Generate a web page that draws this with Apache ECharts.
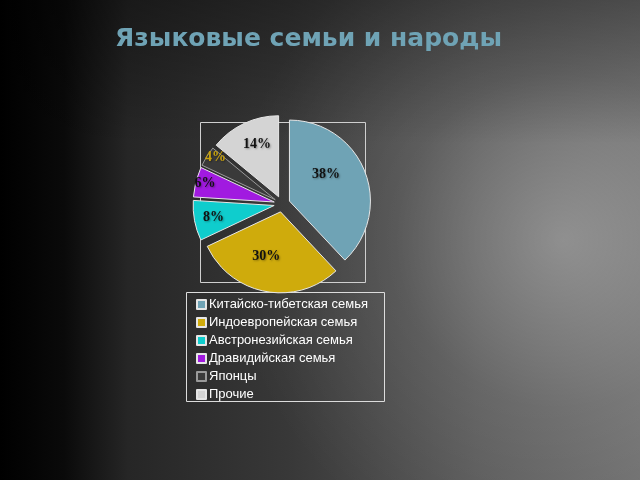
<!DOCTYPE html>
<html><head><meta charset="utf-8">
<script src="https://cdn.jsdelivr.net/npm/echarts@6/dist/echarts.min.js"></script>
<style>html,body{margin:0;padding:0;background:#000}#c{width:640px;height:480px}</style>
</head><body><div id="c"></div>
<script>
const titleText = 'Языковые семьи и народы';
const categories = ['Китайско-тибетская семья','Индоевропейская семья','Австронезийская семья','Дравидийская семья','Японцы','Прочие'];
const values = [38, 30, 8, 6, 4, 14];
const colors = ['#6fa3b5','#cfab0c','#0fcdcd','#a11ae0','#3a3a3a','#d4d4d4'];
const labelColors = ['#111','#111','#111','#111','#c9a20c','#111'];
const labelShift = [[-4,-11],[-6,2],[-18,4],[-27,-8],[-23,-19],[-3,-13]];

const chart = echarts.init(document.getElementById('c'), null, {renderer:'canvas'});
const data = categories.map((n,i)=>({name:n, value:values[i], selected:true,
  itemStyle:{color:colors[i], borderColor: i===4 ? '#9a9a9a' : '#e6e6e6', borderWidth:1},
  label:{color:labelColors[i]}}));
chart.setOption({
  backgroundColor:'#000',
  title:{text:titleText, left:110, top:22,
    textStyle:{color:'#6fa3b5', fontSize:25, fontWeight:'bold', fontFamily:'DejaVu Sans'}},
  graphic:[
    {type:'rect', z:-20, silent:true, shape:{x:0,y:0,width:640,height:480},
      style:{fill:new echarts.graphic.LinearGradient(0,0,1,0,[
        {offset:0,color:'#000'},{offset:0.1,color:'#0a0a0a'},{offset:0.2,color:'#262626'},
        {offset:0.45,color:'#383838'},{offset:0.75,color:'#5a5a5a'},{offset:1,color:'#6e6e6e'}])}},
    {type:'rect', z:-19, silent:true, shape:{x:0,y:0,width:640,height:480},
      style:{fill:new echarts.graphic.RadialGradient(0.88,0.5,0.7,[
        {offset:0,color:'rgba(255,255,255,0.28)'},{offset:0.5,color:'rgba(255,255,255,0.08)'},{offset:1,color:'rgba(255,255,255,0)'}])}},
    {type:'rect', z:-18, silent:true, shape:{x:0,y:0,width:640,height:480},
      style:{fill:new echarts.graphic.LinearGradient(0,0,0,1,[
        {offset:0,color:'rgba(0,0,0,0.35)'},{offset:0.3,color:'rgba(0,0,0,0)'},{offset:1,color:'rgba(0,0,0,0)'}])}},
    {type:'rect', z:-1, silent:true, shape:{x:200.5,y:122.5,width:165,height:160},
      style:{fill:'none', stroke:'#cfcfcf', lineWidth:1}},
    {type:'rect', z:-1, silent:true, shape:{x:186.5,y:292.5,width:198,height:109},
      style:{fill:'none', stroke:'#dcdcdc', lineWidth:1}}
  ],
  legend:{orient:'vertical', left:191, top:293, itemWidth:9, itemHeight:9, itemGap:5,
    icon:'rect', selectedMode:false,
    textStyle:{color:'#fff', fontSize:13, fontFamily:'Liberation Sans Narrow, Liberation Sans', padding:[0,0,0,-2]},
    data:categories},
  series:[{type:'pie', center:[282,204], radius:[0,81], startAngle:90, clockwise:true,
    selectedMode:'multiple', selectedOffset:8, animation:false,
    label:{show:true, position:'inside', formatter:'{d}%', fontSize:14, fontWeight:'bold',
      fontFamily:'Liberation Serif', textShadowColor:'rgba(0,0,0,0.35)', textShadowBlur:2, textShadowOffsetX:1, textShadowOffsetY:1},
    labelLayout:function(p){ const s = labelShift[p.dataIndex]; return {dx:s[0], dy:s[1]}; },
    labelLine:{show:false},
    emphasis:{disabled:true},
    data:data}]
});
</script></body></html>
